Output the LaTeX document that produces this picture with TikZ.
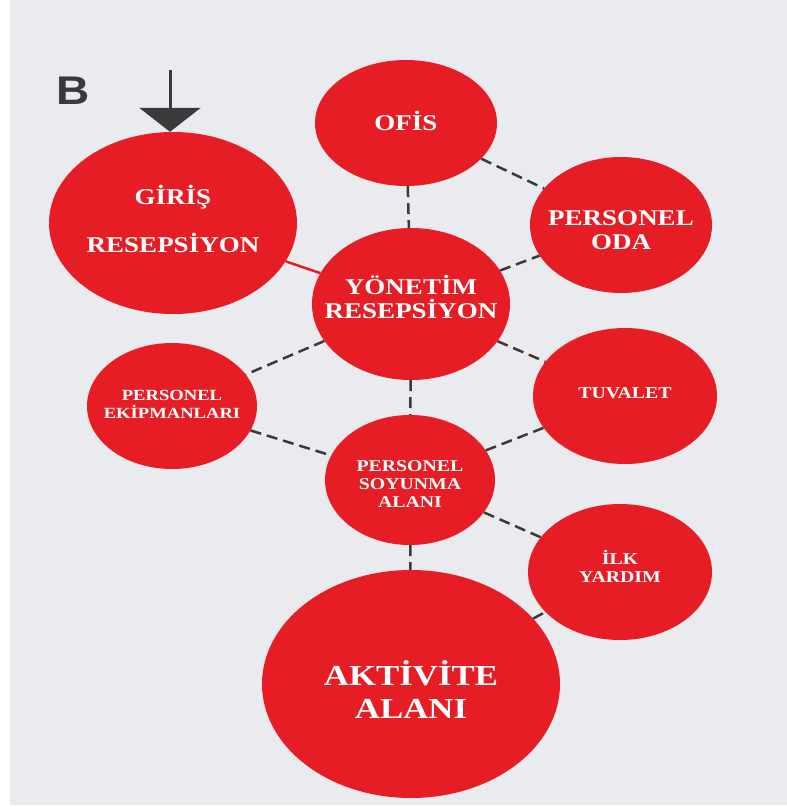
\documentclass[tikz,border=0pt]{standalone}
\usepackage{fontspec}
\setmainfont{Liberation Serif}[FakeStretch=1.2]
\newfontfamily\letterfont{Liberation Sans}[FakeStretch=1.15]
\usetikzlibrary{shapes, arrows.meta, positioning}
\definecolor{roomred}{RGB}{231,29,37}
\definecolor{paper}{RGB}{233,235,239}
\definecolor{linkgray}{RGB}{58,58,60}

\begin{document}
\begin{tikzpicture}[x=1pt, y=-1pt,
    room/.style={ellipse, fill=roomred, inner sep=0pt},
    roomtext/.style={text=white, align=center, inner sep=0pt},
    bigtext/.style={roomtext, font=\fontsize{22.5}{24}\selectfont\bfseries},
    smalltext/.style={roomtext, font=\fontsize{16.5}{18}\selectfont\bfseries},
    link/.style={draw=linkgray, line width=2.5pt, dash pattern=on 11pt off 6pt},
    redlink/.style={draw=roomred, line width=2.5pt},
    entryarrow/.style={draw=linkgray, line width=3pt, -{Triangle[width=61pt, length=24pt]}}]
    \fill[white] (0,0) rectangle (787,807);
    \fill[paper] (10,0) rectangle (787,805);
    \useasboundingbox (0,0) rectangle (787,807);

    \node[room, minimum width=182pt, minimum height=126pt,
        label={[bigtext, yshift=2pt]center:OFİS}] (ofis) at (406,123) {};
    \node[room, minimum width=182pt, minimum height=136pt,
        label={[bigtext, yshift=-5pt]center:PERSONEL\\ODA}] (oda) at (621,225) {};
    \node[room, minimum width=198pt, minimum height=152pt,
        label={[bigtext, yshift=7pt]center:YÖNETİM\\RESEPSİYON}] (yonetim) at (411,304) {};
    \node[room, minimum width=248pt, minimum height=182pt,
        label={[bigtext, yshift=4pt]center:GİRİŞ\\[24pt]RESEPSİYON}] (giris) at (173,223) {};
    \node[room, minimum width=170pt, minimum height=126pt,
        label={[roomtext, font=\fontsize{15.5}{18}\selectfont\bfseries, yshift=2pt]center:PERSONEL\\EKİPMANLARI}] (ekipman) at (172,406) {};
    \node[room, minimum width=184pt, minimum height=136pt,
        label={[smalltext, yshift=3pt]center:TUVALET}] (tuvalet) at (625,396) {};
    \node[room, minimum width=170pt, minimum height=130pt,
        label={[smalltext, yshift=-4pt]center:PERSONEL\\SOYUNMA\\ALANI}] (soyunma) at (410,480) {};
    \node[room, minimum width=184pt, minimum height=136pt,
        label={[smalltext, yshift=6pt]center:İLK\\YARDIM}] (ilk) at (620,572) {};
    \node[room, minimum width=298pt, minimum height=228pt,
        label={[roomtext, font=\fontsize{29}{33}\selectfont\bfseries, yshift=-6pt]center:AKTİVİTE\\ALANI}] (aktivite) at (411,684) {};

    \node[text=linkgray, font=\letterfont\bfseries\fontsize{40}{40}\selectfont] (letter) at (73,91) {B};
    \coordinate (entry) at (170,70);

    \draw[entryarrow] (entry) -- (entry |- giris.north);
    \draw[redlink] (giris) -- (yonetim);
    \draw[link] (ofis) -- (yonetim);
    \draw[link] (ofis) -- (oda);
    \draw[link] (yonetim) -- (oda);
    \draw[link] (yonetim) -- (ekipman);
    \draw[link] (yonetim) -- (tuvalet);
    \draw[link] (yonetim) -- (soyunma);
    \draw[link] (ekipman) -- (soyunma);
    \draw[link] (tuvalet) -- (soyunma);
    \draw[link] (soyunma) -- (ilk);
    \draw[link] (soyunma) -- (aktivite);
    \draw[link] (aktivite) -- (ilk);

\end{tikzpicture}
\end{document}
